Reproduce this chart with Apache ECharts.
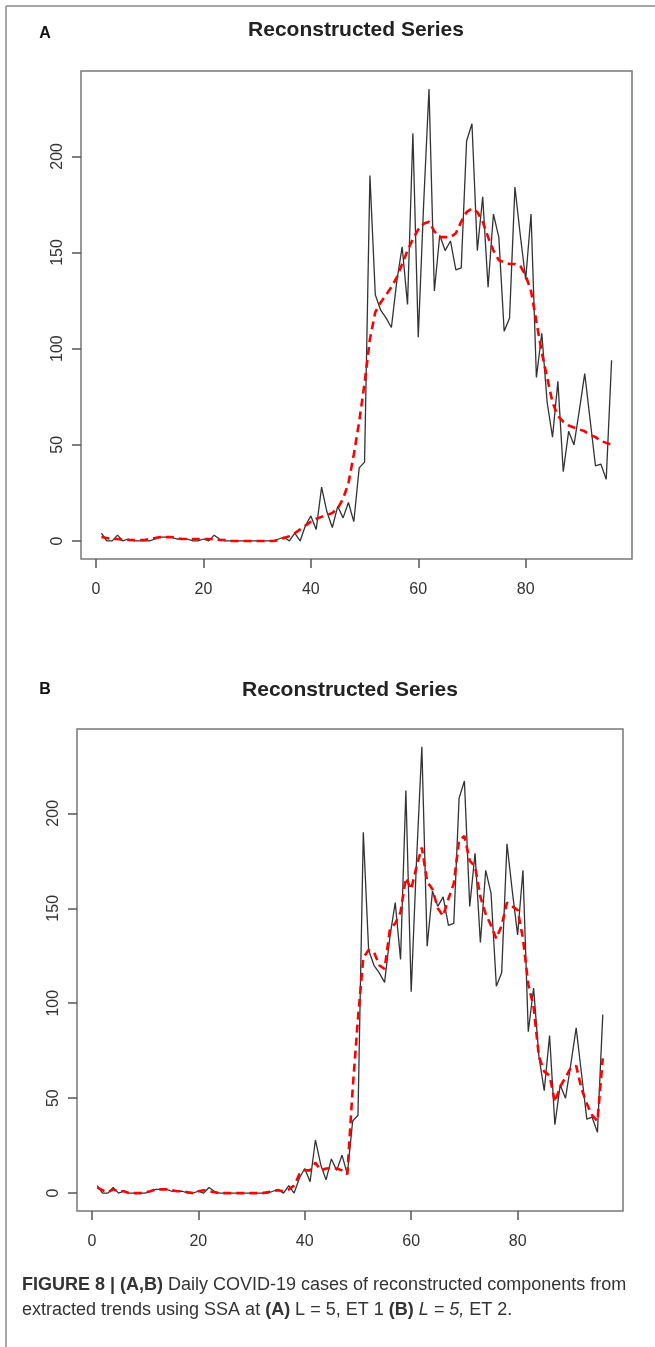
<!DOCTYPE html>
<html>
<head>
<meta charset="utf-8">
<script src="https://cdn.jsdelivr.net/npm/echarts@6/dist/echarts.min.js"></script>
<style>
html, body { margin: 0; padding: 0; background: #fff; }
#chart { width: 655px; height: 1347px; }
</style>
</head>
<body>
<div id="chart"></div>
<script>
// daily cases (black line), same series in both panels
var observed = [4, 0, 0, 3, 0, 1, 0, 0, 0, 0,
    1, 2, 2, 2, 1, 1, 1, 0, 0, 1,
    0, 3, 1, 0, 0, 0, 0, 0, 0, 0,
    0, 0, 0, 1, 2, 0, 4, 0, 8, 13,
    6, 28, 15, 7, 18, 12, 20, 10, 38, 41,
    190, 128, 120, 116, 111, 135, 153, 123, 212, 106,
    175, 235, 130, 159, 151, 156, 141, 142, 208, 217,
    151, 179, 132, 170, 158, 109, 116, 184, 159, 136,
    170, 85, 108, 72, 54, 83, 36, 57, 50, 68,
    87, 63, 39, 40, 32, 94];

// reconstructed trend, L = 5, ET 1 (panel A)
var trendA = [2, 1.5, 1, 1, 0.5, 0.5, 0.5, 0.5, 0.5, 1,
    1.5, 2, 2, 2, 1.5, 1, 1, 1, 1, 1,
    1, 1, 0.5, 0.5, 0, 0, 0, 0, 0, 0,
    0, 0, 0, 0.5, 1.5, 2.5, 4, 6, 8, 10,
    11.5, 12.5, 13.5, 14.5, 17, 22, 30, 45, 62, 82,
    105, 119, 124, 128, 132, 137, 144, 151, 157, 162,
    165, 166, 161, 158, 158, 158, 160, 166, 171, 173,
    171, 166, 158, 151, 146, 145, 144, 144, 143, 138,
    130, 114, 98, 85, 72, 65, 62, 60, 59, 58,
    57, 55, 54, 52, 51, 50];

// reconstructed trend, L = 5, ET 2 (panel B)
var trendB = [3, 1.5, 0.5, 2, 1, 1, 0, 0, 0, 0.5,
    1, 2, 2, 2, 1.5, 1, 1, 0.5, 0, 1,
    1.5, 1, 0.5, 0, 0, 0, 0, 0, 0, 0,
    0, 0, 0.5, 1, 1.5, 1, 2, 4, 10, 12,
    12, 16, 12, 13, 13, 13, 12, 10, 55, 92,
    124, 128, 127, 120, 118, 139, 142, 148, 166, 160,
    172, 182, 164, 160, 150, 146, 155, 163, 186, 188,
    175, 172, 156, 147, 141, 134, 141, 153, 151, 149,
    134, 110, 98, 72, 64, 62, 48, 56, 61, 66,
    67, 55, 47, 41, 38, 71];

var xTicks = [0, 20, 40, 60, 80];
var yTicks = [0, 50, 100, 150, 200];

var days = [];
for (var i = 1; i <= observed.length; i++) days.push(i);

function pairs(vals) {
    return vals.map(function (v, k) { return [days[k], v]; });
}

var labelFont = 'Liberation Sans';

function xAxisFor(g) {
    return {
        type: 'value', gridIndex: g, min: -2.8, max: 99.8,
        axisLine: { show: false, onZero: false },
        splitLine: { show: false },
        axisTick: { show: true, length: 9, customValues: xTicks, lineStyle: { color: '#555', width: 1.5 } },
        axisLabel: { customValues: xTicks, color: '#333', fontSize: 16, fontFamily: labelFont, margin: 23 }
    };
}
function yAxisFor(g) {
    return {
        type: 'value', gridIndex: g, min: -9.4, max: 244.4,
        axisLine: { show: false, onZero: false },
        splitLine: { show: false },
        axisTick: { show: true, length: 9, customValues: yTicks, lineStyle: { color: '#555', width: 1.5 } },
        axisLabel: { customValues: yTicks, rotate: 90, color: '#333', fontSize: 16, fontFamily: labelFont, margin: 15 }
    };
}

function blackLine(g) {
    return {
        type: 'line', xAxisIndex: g, yAxisIndex: g, data: pairs(observed),
        showSymbol: false, z: 2,
        lineStyle: { color: '#333', width: 1.3 }
    };
}
function redLine(g, vals) {
    return {
        type: 'line', xAxisIndex: g, yAxisIndex: g, data: pairs(vals),
        showSymbol: false, z: 3,
        lineStyle: { color: '#ff0000', width: 2.6, type: [8, 5] }
    };
}

var chart = echarts.init(document.getElementById('chart'));
chart.setOption({
    animation: false,
    backgroundColor: '#fff',
    grid: [
        { left: 81, top: 71, width: 551, height: 488, show: true, borderColor: '#777', borderWidth: 1.5 },
        { left: 77, top: 729, width: 546, height: 482, show: true, borderColor: '#777', borderWidth: 1.5 }
    ],
    xAxis: [xAxisFor(0), xAxisFor(1)],
    yAxis: [yAxisFor(0), yAxisFor(1)],
    series: [blackLine(0), redLine(0, trendA), blackLine(1), redLine(1, trendB)],
    graphic: [
        // figure frame
        { type: 'line', shape: { x1: 6, y1: 6, x2: 655, y2: 6 }, style: { stroke: '#888', lineWidth: 1.5 } },
        { type: 'line', shape: { x1: 6, y1: 6, x2: 6, y2: 1347 }, style: { stroke: '#888', lineWidth: 1.5 } },
        // panel letters and titles
        { type: 'text', x: 45, y: 34, style: { text: 'A', font: 'bold 16px Liberation Sans', fill: '#111', align: 'center', verticalAlign: 'middle' } },
        { type: 'text', x: 356, y: 30, style: { text: 'Reconstructed Series', font: 'bold 21px Liberation Sans', fill: '#222', align: 'center', verticalAlign: 'middle' } },
        { type: 'text', x: 45, y: 690, style: { text: 'B', font: 'bold 16px Liberation Sans', fill: '#111', align: 'center', verticalAlign: 'middle' } },
        { type: 'text', x: 350, y: 690, style: { text: 'Reconstructed Series', font: 'bold 21px Liberation Sans', fill: '#222', align: 'center', verticalAlign: 'middle' } },
        // caption
        {
            type: 'text', x: 22, y: 1285,
            style: {
                text: '{b|FIGURE 8 | (A,B)} Daily COVID-19 cases of reconstructed components from',
                fontSize: 18, fontFamily: labelFont, fill: '#333', verticalAlign: 'middle',
                rich: { b: { fontWeight: 'bold', fontSize: 18, fontFamily: labelFont, fill: '#333' } }
            }
        },
        {
            type: 'text', x: 22, y: 1310,
            style: {
                text: 'extracted trends using SSA at {b|(A)} L = 5, ET 1 {b|(B)} {i|L = 5,} ET 2.',
                fontSize: 18, fontFamily: labelFont, fill: '#333', verticalAlign: 'middle',
                rich: {
                    b: { fontWeight: 'bold', fontSize: 18, fontFamily: labelFont, fill: '#333' },
                    i: { fontStyle: 'italic', fontSize: 18, fontFamily: labelFont, fill: '#333' }
                }
            }
        }
    ]
});
</script>
</body>
</html>
